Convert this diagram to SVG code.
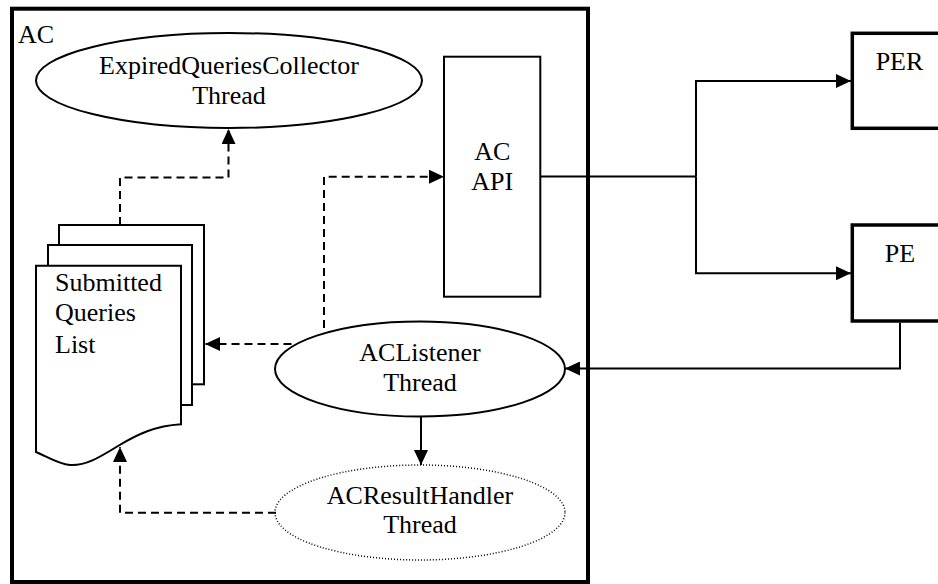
<svg xmlns="http://www.w3.org/2000/svg" width="938" height="584" viewBox="0 0 938 584">
<style>
text{font-family:'Liberation Serif','Times New Roman',serif;font-size:26px;fill:#000}
.c{text-anchor:middle}
.shape{fill:#fff;stroke:#000;stroke-width:2}
.thick{fill:#fff;stroke:#000;stroke-width:3.5}
.line{fill:none;stroke:#000;stroke-width:2}
.dash{fill:none;stroke:#000;stroke-width:2;stroke-dasharray:8 5}
</style>
<defs>
<marker id="arr" markerUnits="userSpaceOnUse" markerWidth="15" markerHeight="14" refX="15" refY="7" orient="auto">
<path d="M0,0 L15,7 L0,14 z" fill="#000"/>
</marker>
</defs>
<rect width="938" height="584" fill="#fff"/>
<g id="AC">
<rect x="12" y="8.7" width="576" height="573.3" fill="none" stroke="#000" stroke-width="4"/>
<text x="18" y="43">AC</text>
</g>
<g id="ExpiredQueriesCollector">
<ellipse class="shape" cx="229" cy="80.5" rx="193" ry="47.5"/>
<text class="c" x="229" y="74">ExpiredQueriesCollector</text>
<text class="c" x="229" y="104">Thread</text>
</g>
<g id="SubmittedQueriesList">
<rect class="shape" x="59" y="225" width="145" height="159.3"/>
<rect class="shape" x="48" y="245" width="144" height="160"/>
<path class="shape" d="M36,265.7 H181 V424.3 C155,426 138,434 118,446 C100,457 86,466 70,465 C58,464 46,456 36,452 Z"/>
<text x="55" y="290.5">Submitted</text>
<text x="55" y="321">Queries</text>
<text x="55" y="353">List</text>
</g>
<g id="ACAPI">
<rect class="shape" x="444" y="56.7" width="96.3" height="240"/>
<text class="c" x="492.3" y="160">AC</text>
<text class="c" x="492.3" y="189.5">API</text>
</g>
<g id="ACListener">
<ellipse class="shape" cx="420" cy="369" rx="145" ry="47.5"/>
<text class="c" x="420" y="361">ACListener</text>
<text class="c" x="420" y="391">Thread</text>
</g>
<g id="ACResultHandler">
<ellipse cx="420" cy="512.5" rx="145" ry="47.5" fill="#fff" stroke="#000" stroke-width="1.5" stroke-dasharray="1 2"/>
<text class="c" x="420" y="503.5">ACResultHandler</text>
<text class="c" x="420" y="533">Thread</text>
</g>
<g id="PER">
<rect class="thick" x="852.3" y="33.3" width="96" height="95"/>
<text class="c" x="899.5" y="70">PER</text>
</g>
<g id="PE">
<rect class="thick" x="852.3" y="225" width="96" height="96"/>
<text class="c" x="900" y="261.7">PE</text>
</g>
<g id="connectors">
<path class="dash" d="M120,225 V177.5 H228.5 V129" marker-end="url(#arr)"/>
<path class="dash" d="M324,328 V176.7 H444" marker-end="url(#arr)"/>
<path class="dash" d="M291.5,344 H205" marker-end="url(#arr)"/>
<path class="dash" d="M276,512.7 H120 V447" marker-end="url(#arr)"/>
<path class="line" d="M421,416.5 V465" marker-end="url(#arr)"/>
<path class="line" d="M540.3,176.5 H696"/>
<path class="line" d="M696,176.5 V81 H851" marker-end="url(#arr)"/>
<path class="line" d="M696,176.5 V273.3 H851" marker-end="url(#arr)"/>
<path class="line" d="M900,322.8 V368.5 H565" marker-end="url(#arr)"/>
</g>
</svg>
